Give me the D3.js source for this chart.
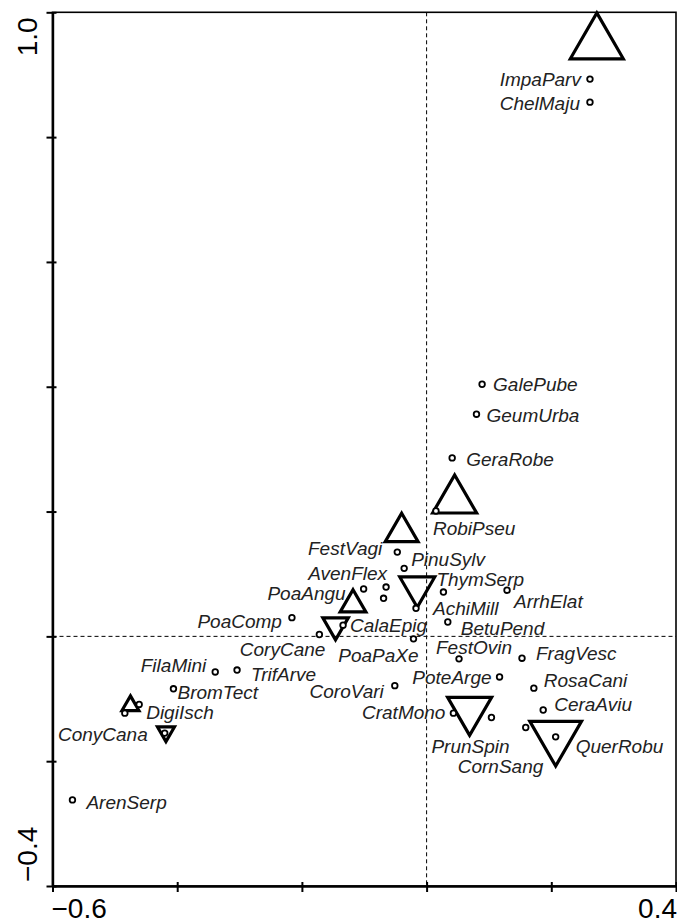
<!DOCTYPE html>
<html>
<head>
<meta charset="utf-8">
<script src="https://cdn.jsdelivr.net/npm/d3@7"></script>
<style>
  body { margin: 0; background: #fff; }
  svg { display: block; }
</style>
</head>
<body>
<script>
/* global d3 */
(function () {
  'use strict'

  // Species scores (axis 1, axis 2)
  var species = ['ImpaParv', 'ChelMaju', 'GalePube', 'GeumUrba', 'GeraRobe',
    'RobiPseu', 'FestVagi', 'PinuSylv', 'AvenFlex', 'ThymSerp', 'ArrhElat',
    'PoaAngu', 'AchiMill', 'BetuPend', 'PoaComp', 'CalaEpig', 'CoryCane',
    'PoaPaXe', 'FestOvin', 'FragVesc', 'PoteArge', 'RosaCani', 'CeraAviu',
    'CratMono', 'PrunSpin', 'CornSang', 'QuerRobu', 'CoroVari', 'FilaMini',
    'TrifArve', 'BromTect', 'DigiIsch', 'ConyCana', 'ArenSerp']
  var speciesX = [0.262, 0.262, 0.089, 0.080, 0.041,
    0.015, -0.047, -0.036, -0.065, 0.027, 0.129,
    -0.101, -0.017, 0.034, -0.216, -0.134, -0.172,
    -0.021, 0.052, 0.153, 0.117, 0.172, 0.187,
    0.043, 0.104, 0.159, 0.207, -0.051, -0.339,
    -0.304, -0.406, -0.461, -0.420, -0.568]
  var speciesY = [0.893, 0.856, 0.404, 0.356, 0.286,
    0.201, 0.135, 0.109, 0.079, 0.071, 0.074,
    0.076, 0.045, 0.023, 0.030, 0.018, 0.003,
    -0.004, -0.036, -0.035, -0.065, -0.083, -0.118,
    -0.123, -0.130, -0.146, -0.161, -0.079, -0.057,
    -0.054, -0.084, -0.109, -0.155, -0.262]

  // unlabelled species points
  var otherX = [-0.069, -0.484]
  var otherY = [0.061, -0.123]

  // centroids of nominal variables: up / down triangles, weight = symbol size
  var centroidX = [0.273, 0.045, -0.040, -0.118, -0.475,
    -0.015, -0.146, -0.418, 0.069, 0.207]
  var centroidY = [0.950, 0.218, 0.167, 0.051, -0.111,
    0.079, 0.018, -0.153, -0.118, -0.160]
  var centroidDir = ['up', 'up', 'up', 'up', 'up',
    'down', 'down', 'down', 'down', 'down']
  var centroidWeight = [1.0, 0.83, 0.62, 0.485, 0.32,
    0.66, 0.48, 0.32, 0.83, 0.975]

  var xTicks = [-0.6, -0.4, -0.2, 0, 0.2, 0.4]
  var yTicks = [-0.4, -0.2, 0, 0.2, 0.4, 0.6, 0.8, 1.0]

  // label placement relative to point: [dx, dy, anchor]
  var labelPos = {
    ImpaParv: [-9, 6.5, 'end'],
    ChelMaju: [-10, 7.5, 'end'],
    GalePube: [11, 7, 'start'],
    GeumUrba: [10, 7.5, 'start'],
    GeraRobe: [14, 8, 'start'],
    RobiPseu: [-3, 24.5, 'start'],
    FestVagi: [-15, 3, 'end'],
    PinuSylv: [7, -2, 'start'],
    AvenFlex: [1, -7, 'end'],
    ThymSerp: [-7, -6, 'start'],
    ArrhElat: [7, 18, 'start'],
    PoaAngu: [-18, 11, 'end'],
    AchiMill: [17, 7, 'start'],
    BetuPend: [13, 13, 'start'],
    PoaComp: [-10, 10, 'end'],
    CalaEpig: [7, 7, 'start'],
    CoryCane: [6, 22, 'end'],
    PoaPaXe: [5, 23, 'end'],
    FestOvin: [-23, -5, 'start'],
    FragVesc: [14, 2, 'start'],
    PoteArge: [-8, 7, 'end'],
    RosaCani: [10, -1, 'start'],
    CeraAviu: [11, 1, 'start'],
    CratMono: [-8, 6, 'end'],
    PrunSpin: [-60, 35, 'start'],
    CornSang: [-68, 46, 'start'],
    QuerRobu: [20, 16, 'start'],
    CoroVari: [-11, 12, 'end'],
    FilaMini: [-9, 0, 'end'],
    TrifArve: [14, 11, 'start'],
    BromTect: [4, 10, 'start'],
    DigiIsch: [7, 15, 'start'],
    ConyCana: [-17, 8, 'end'],
    ArenSerp: [14, 9, 'start']
  }

  var dim = { w: 677, h: 924 }
  var box = { left: 52.5, right: 676, top: 12.3, bottom: 886 }
  var font = '"Liberation Sans", Arial, sans-serif'

  var x = d3.scaleLinear().domain([-0.6, 0.4]).range([box.left, box.right])
  var y = d3.scaleLinear().domain([-0.4, 1.0]).range([box.bottom, box.top])
  var side = d3.scaleLinear().domain([0, 1]).range([0, 53])

  var svg = d3.select('body').append('svg')
    .attr('width', dim.w)
    .attr('height', dim.h)

  // zero lines
  svg.append('line')
    .attr('x1', x(0)).attr('x2', x(0))
    .attr('y1', y(1.0)).attr('y2', y(-0.4))
    .attr('stroke', '#000').attr('stroke-width', 1)
    .attr('stroke-dasharray', '4,3')
  svg.append('line')
    .attr('x1', x(-0.6)).attr('x2', x(0.4))
    .attr('y1', y(0)).attr('y2', y(0))
    .attr('stroke', '#000').attr('stroke-width', 1)
    .attr('stroke-dasharray', '4,3')

  // frame
  svg.append('rect')
    .attr('x', x(-0.6)).attr('y', y(1.0))
    .attr('width', x(0.4) - x(-0.6))
    .attr('height', y(-0.4) - y(1.0))
    .attr('fill', 'none').attr('stroke', '#000').attr('stroke-width', 1.6)

  var bottomAxis = d3.axisBottom(x).tickValues(xTicks)
    .tickSizeInner(6).tickSizeOuter(0).tickFormat('')
  var leftAxis = d3.axisLeft(y).tickValues(yTicks)
    .tickSizeInner(6).tickSizeOuter(0).tickFormat('')

  var gx = svg.append('g')
    .attr('transform', 'translate(0,' + y(-0.4) + ')')
    .call(bottomAxis)
  gx.select('.domain').attr('stroke-width', 2.4)
  gx.selectAll('.tick line').attr('y1', -4).attr('y2', 6).attr('stroke-width', 2)

  var gy = svg.append('g')
    .attr('transform', 'translate(' + x(-0.6) + ',0)')
    .call(leftAxis)
  gy.select('.domain').attr('stroke-width', 2.4)
  gy.selectAll('.tick line').attr('x1', 4).attr('x2', -6).attr('stroke-width', 2)

  // end labels only
  svg.append('text')
    .attr('x', x(-0.6) - 1).attr('y', 918)
    .attr('text-anchor', 'start')
    .style('font', '28px ' + font)
    .text(d3.format('.1f')(xTicks[0]))
  svg.append('text')
    .attr('x', x(0.4) + 1).attr('y', 918)
    .attr('text-anchor', 'end')
    .style('font', '28px ' + font)
    .text(d3.format('.1f')(xTicks[xTicks.length - 1]))
  svg.append('text')
    .attr('transform', 'translate(37,' + (y(-0.4) - 4) + ') rotate(-90)')
    .attr('text-anchor', 'start')
    .style('font', '28px ' + font)
    .text(d3.format('.1f')(yTicks[0]))
  svg.append('text')
    .attr('transform', 'translate(37,' + (y(1.0) + 5) + ') rotate(-90)')
    .attr('text-anchor', 'end')
    .style('font', '28px ' + font)
    .text(d3.format('.1f')(yTicks[yTicks.length - 1]))

  // centroid triangles
  var tri = d3.symbol().type(d3.symbolTriangle)
  svg.append('g').selectAll('path')
    .data(centroidX)
    .enter().append('path')
    .attr('d', function (d, i) {
      var s = side(centroidWeight[i])
      return tri.size(s * s * Math.sqrt(3) / 4)()
    })
    .attr('transform', function (d, i) {
      return 'translate(' + x(d) + ',' + y(centroidY[i]) + ')' +
        (centroidDir[i] === 'down' ? ' rotate(180)' : '')
    })
    .attr('fill', 'none')
    .attr('stroke', '#000')
    .attr('stroke-width', 3.2)

  // species points
  var pts = svg.append('g')
  pts.selectAll('circle.sp')
    .data(speciesX)
    .enter().append('circle')
    .attr('class', 'sp')
    .attr('cx', function (d) { return x(d) })
    .attr('cy', function (d, i) { return y(speciesY[i]) })
    .attr('r', 2.8)
    .attr('fill', '#fff').attr('stroke', '#000').attr('stroke-width', 1.8)
  pts.selectAll('circle.other')
    .data(otherX)
    .enter().append('circle')
    .attr('class', 'other')
    .attr('cx', function (d) { return x(d) })
    .attr('cy', function (d, i) { return y(otherY[i]) })
    .attr('r', 2.8)
    .attr('fill', '#fff').attr('stroke', '#000').attr('stroke-width', 1.8)

  // species labels
  svg.append('g').selectAll('text')
    .data(species)
    .enter().append('text')
    .attr('x', function (d, i) { return x(speciesX[i]) + labelPos[d][0] })
    .attr('y', function (d, i) { return y(speciesY[i]) + labelPos[d][1] })
    .attr('text-anchor', function (d) { return labelPos[d][2] })
    .style('font', 'italic 19px ' + font)
    .attr('fill', '#222')
    .text(function (d) { return d })
}())
</script>
</body>
</html>
